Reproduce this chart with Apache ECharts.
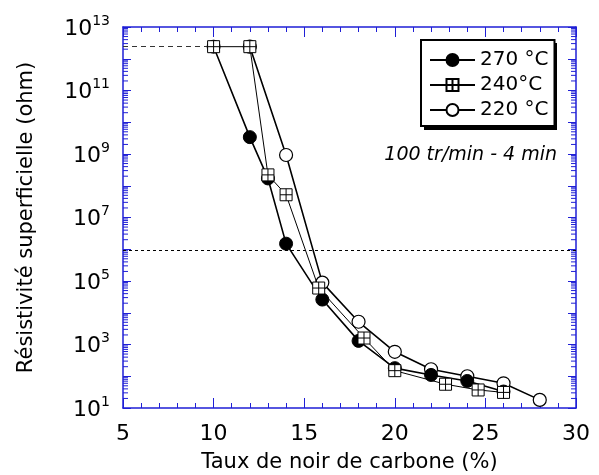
<!DOCTYPE html>
<html>
<head>
<meta charset="utf-8">
<script src="https://cdn.jsdelivr.net/npm/echarts@6/dist/echarts.min.js"></script>
<style>
  html, body { margin: 0; padding: 0; background: #fff; }
  #chart { width: 599px; height: 475px; }
</style>
</head>
<body>
<div id="chart"></div>
<script>
// Surface resistivity (ohm) versus carbon black content (%) for three mixing temperatures
const carbon270 = [10, 12, 13, 14, 16, 18, 20, 22, 24, 26];
const rho270    = [2.4e12, 3.4e9, 1.7e8, 1.5e6, 2.6e4, 1.3e3, 180, 110, 71, 33];

const carbon240 = [10, 12, 13, 14, 15.8, 18.3, 20, 22.8, 24.6, 26];
const rho240    = [2.4e12, 2.4e12, 2.2e8, 5.2e7, 6e4, 1.6e3, 150, 56, 37, 31];

const carbon220 = [12, 14, 16, 18, 20, 22, 24, 26, 28];
const rho220    = [2.4e12, 9.3e8, 8.9e4, 5.2e3, 590, 166, 100, 60, 18];

const seriesNames = ['270 °C', '240°C', '220 °C'];

// Measurement ceiling (dashed) and conduction threshold (dotted)
const ceilingLevel = 2.4e12;
const ceilingRange = [5, 10];
const thresholdLevel = 9e5;

// Axis ranges and ticks
const xMin = 5, xMax = 30, xStep = 5;
const yMinExp = 1, yMaxExp = 13;
const yLabelExps = [1, 3, 5, 7, 9, 11, 13];
const minorMultipliers = [2, 3, 4, 5, 6, 7, 8, 9];

const axisBlue = '#1f1fd6';
const font = 'DejaVu Sans';

// Log-spaced minor tick values inside each decade
const logMinorTicks = [];
for (let e = yMinExp; e < yMaxExp; e++) {
  minorMultipliers.forEach(m => logMinorTicks.push(m * Math.pow(10, e)));
}

const pairs = (xs, ys) => xs.map((x, i) => [x, ys[i]]);

const squareSymbol = 'path://M0,0H12V12H0Z M6,0V12 M0,6H12';

const chart = echarts.init(document.getElementById('chart'), null, { renderer: 'canvas' });

const xAxisBase = {
  type: 'value', min: xMin, max: xMax, interval: xStep,
  axisLine: { show: true, lineStyle: { color: axisBlue, width: 1.5 } },
  axisTick: { show: true, inside: true, length: 10, lineStyle: { color: axisBlue, width: 1 } },
  minorTick: { show: true, splitNumber: 5, length: 5, lineStyle: { color: axisBlue, width: 1 } },
  splitLine: { show: false }
};

const yExpBase = {
  type: 'value', min: yMinExp, max: yMaxExp, interval: 1,
  axisLine: { show: true, lineStyle: { color: axisBlue, width: 1.5 } },
  axisTick: { show: true, inside: true, length: 8, lineStyle: { color: axisBlue, width: 1 } },
  splitLine: { show: false }
};

chart.setOption({
  animation: false,
  textStyle: { fontFamily: font, color: '#000' },
  grid: { left: 123, right: 23, top: 27, bottom: 67, containLabel: false, outerBoundsMode: 'none' },
  xAxis: [
    Object.assign({}, xAxisBase, {
      position: 'bottom',
      name: 'Taux de noir de carbone (%)',
      nameLocation: 'middle',
      nameGap: 44,
      nameTextStyle: { fontSize: 21, color: '#000', fontFamily: font },
      axisLabel: { show: true, margin: 15, fontSize: 22, color: '#000', fontFamily: font }
    }),
    Object.assign({}, xAxisBase, {
      position: 'top',
      axisLabel: { show: false }
    })
  ],
  yAxis: [
    // Data scale
    { type: 'log', logBase: 10, min: Math.pow(10, yMinExp), max: Math.pow(10, yMaxExp), show: false },
    // Decade ticks and labels on the left
    Object.assign({}, yExpBase, {
      position: 'left',
      name: 'Résistivité superficielle (ohm)',
      nameLocation: 'middle',
      nameGap: 86,
      nameTextStyle: { fontSize: 21, color: '#000', fontFamily: font },
      axisLabel: {
        show: true, margin: 13, color: '#000',
        formatter: v => yLabelExps.indexOf(v) >= 0 ? '{b|10}{s|' + v + '}' : '',
        rich: {
          b: { fontSize: 22, fontFamily: font, color: '#000', lineHeight: 26, verticalAlign: 'bottom' },
          s: { fontSize: 14, fontFamily: font, color: '#000', lineHeight: 26, verticalAlign: 'top' }
        }
      }
    }),
    // Decade ticks on the right
    Object.assign({}, yExpBase, {
      position: 'right',
      axisLabel: { show: false }
    })
  ],
  legend: {
    data: seriesNames,
    orient: 'vertical',
    left: 421, top: 40,
    itemWidth: 45, itemHeight: 15, itemGap: 5,
    padding: [10, 6, 6, 8],
    borderColor: '#000', borderWidth: 2,
    backgroundColor: '#fff',
    selectedMode: false,
    textStyle: { fontSize: 20, color: '#000', fontFamily: font }
  },
  graphic: [
    {
      // Drop shadow behind the legend box
      type: 'rect', left: 424, top: 43, z: 0,
      shape: { width: 133, height: 87 },
      style: { fill: '#000' }
    },
    {
      type: 'text', right: 42, top: 146,
      style: { text: '100 tr/min - 4 min', font: 'italic 19px "DejaVu Sans"', fill: '#000' }
    }
  ],
  series: [
    {
      name: seriesNames[2], type: 'line', xAxisIndex: 0, yAxisIndex: 0,
      data: pairs(carbon220, rho220),
      symbol: 'circle', symbolSize: 13,
      lineStyle: { color: '#000', width: 1.6 },
      itemStyle: { color: '#fff', borderColor: '#000', borderWidth: 1.2 },
      z: 3
    },
    {
      name: seriesNames[0], type: 'line', xAxisIndex: 0, yAxisIndex: 0,
      data: pairs(carbon270, rho270),
      symbol: 'circle', symbolSize: 13,
      lineStyle: { color: '#000', width: 1.6 },
      itemStyle: { color: '#000', borderColor: '#000', borderWidth: 1 },
      z: 4
    },
    {
      name: seriesNames[1], type: 'line', xAxisIndex: 0, yAxisIndex: 0,
      data: pairs(carbon240, rho240),
      symbol: squareSymbol, symbolSize: 12,
      lineStyle: { color: '#000', width: 1 },
      itemStyle: { color: '#fff', borderColor: '#000', borderWidth: 1 },
      z: 5,
      markLine: {
        silent: true, symbol: 'none', animation: false,
        label: { show: false },
        data: [
          [
            { coord: [ceilingRange[0], ceilingLevel], lineStyle: { type: [5, 4], color: '#333', width: 1 } },
            { coord: [ceilingRange[1], ceilingLevel] }
          ],
          { yAxis: thresholdLevel, lineStyle: { type: [3, 3], color: '#000', width: 1 } }
        ]
      }
    },
    {
      // Log-spaced minor ticks on both vertical edges
      type: 'custom', silent: true, xAxisIndex: 0, yAxisIndex: 0, z: 2, clip: false,
      data: logMinorTicks.map(v => [xMin, v]),
      renderItem: (params, api) => {
        const v = api.value(1);
        const l = api.coord([xMin, v]);
        const r = api.coord([xMax, v]);
        const style = { stroke: axisBlue, lineWidth: 1 };
        return {
          type: 'group',
          children: [
            { type: 'line', shape: { x1: l[0], y1: l[1], x2: l[0] + 5, y2: l[1] }, style: style },
            { type: 'line', shape: { x1: r[0], y1: r[1], x2: r[0] - 5, y2: r[1] }, style: style }
          ]
        };
      }
    }
  ]
});
</script>
</body>
</html>
